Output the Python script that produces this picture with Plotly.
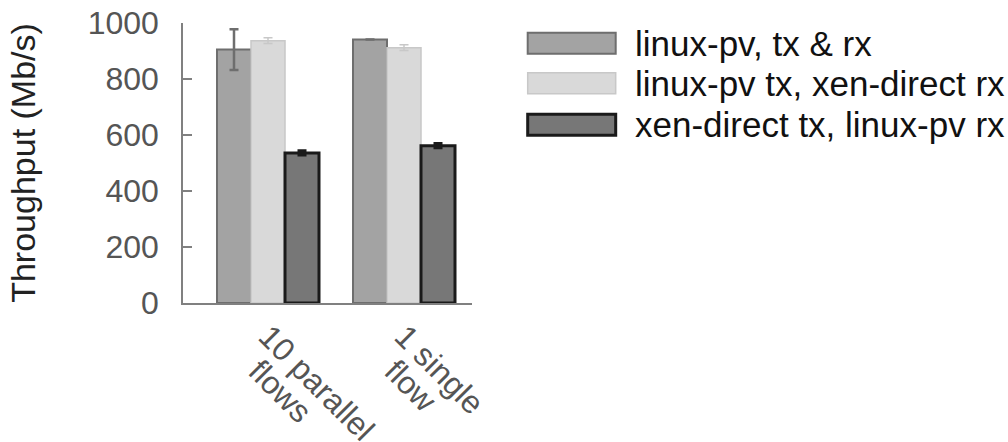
import plotly.graph_objects as go

categories = ["10 parallel flows", "1 single flow"]
label_line1 = ["10 parallel", "1 single"]
label_line2 = ["flows", "flow"]
series_names = ["linux-pv, tx & rx", "linux-pv tx, xen-direct rx", "xen-direct tx, linux-pv rx"]
values_a = [905, 941]
errors_a = [73, None]
values_b = [937, 912]
errors_b = [10, 10]
values_c = [536, 562]
errors_c = [6, 6]
y_ticks = [0, 200, 400, 600, 800, 1000]

fills = ["#a3a3a3", "#d9d9d9", "#777777"]
borders = ["#6e6e6e", "#c8c8c8", "#1a1a1a"]
border_w = [2, 1.5, 3]
err_th = [2.5, 1.5, 4]

W, H = 1008, 442
L, R, T, B = 183.3, 472.3, 22.7, 302.7

fig = go.Figure()
for i, (vals, errs) in enumerate([(values_a, errors_a), (values_b, errors_b), (values_c, errors_c)]):
    fig.add_trace(go.Bar(
        x=categories, y=vals, name=series_names[i],
        marker=dict(color=fills[i], line=dict(color=borders[i], width=border_w[i])),
        error_y=dict(type="data", array=errs, visible=True, color=borders[i],
                     thickness=err_th[i], width=4.5),
        showlegend=False,
    ))
# invisible helper trace so the second-line label axis is drawn
fig.add_trace(go.Scatter(x=categories, y=[0, 0], xaxis="x2", mode="markers",
                         marker=dict(opacity=0), showlegend=False, hoverinfo="skip"))

def px(x):
    return (x - L) / (R - L)

def py(y):
    return (B - y) / (B - T)

row_centers = [43, 83, 124.5]
for i, name in enumerate(series_names):
    yc = row_centers[i]
    fig.add_shape(type="rect", xref="paper", yref="paper",
                  x0=px(528), x1=px(616), y0=py(yc + 10.5), y1=py(yc - 10.5),
                  fillcolor=fills[i], line=dict(color=borders[i], width=border_w[i]))
    fig.add_annotation(xref="paper", yref="paper", x=px(633), y=py(yc),
                       xanchor="left", yanchor="middle", showarrow=False,
                       text=name, font=dict(family="Liberation Sans", size=35, color="#111111"))

fig.update_layout(
    width=W, height=H,
    margin=dict(l=L, r=W - R, t=T, b=H - B, pad=0, autoexpand=False),
    plot_bgcolor="white", paper_bgcolor="white",
    barmode="group", bargap=0.25, bargroupgap=0,
    font=dict(family="Liberation Sans", color="#555555"),
    xaxis=dict(
        range=[-0.625, 1.5], showline=True, linecolor="#808080", linewidth=1.5,
        ticks="", tickangle=45, tickfont=dict(size=32, color="#555555"),
        tickmode="array", tickvals=categories, ticktext=label_line1,
        showgrid=False, zeroline=False, automargin=False,
    ),
    xaxis2=dict(
        overlaying="x", anchor="y", side="bottom", matches="x",
        range=[-0.625, 1.5], showline=False, ticks="", tickangle=45,
        tickfont=dict(size=32, color="#555555"),
        tickmode="array", tickvals=categories, ticktext=label_line2,
        ticklabelstandoff=42, ticklabelshift=-10,
        showgrid=False, zeroline=False, automargin=False,
    ),
    yaxis=dict(
        range=[0, 1000], tickvals=y_ticks, showline=True, linecolor="#808080", linewidth=1.5,
        ticks="inside", ticklen=9, tickcolor="#808080", tickwidth=1.5, ticklabelstandoff=16,
        tickfont=dict(size=32, color="#555555"), showgrid=False, zeroline=False, automargin=False,
        title=dict(text="Throughput (Mb/s)", font=dict(size=34, color="#222222"), standoff=42),
    ),
)
fig.write_html("out.html", config={"displayModeBar": False},
               post_script="document.body.style.margin='0';document.body.style.overflow='hidden';")
